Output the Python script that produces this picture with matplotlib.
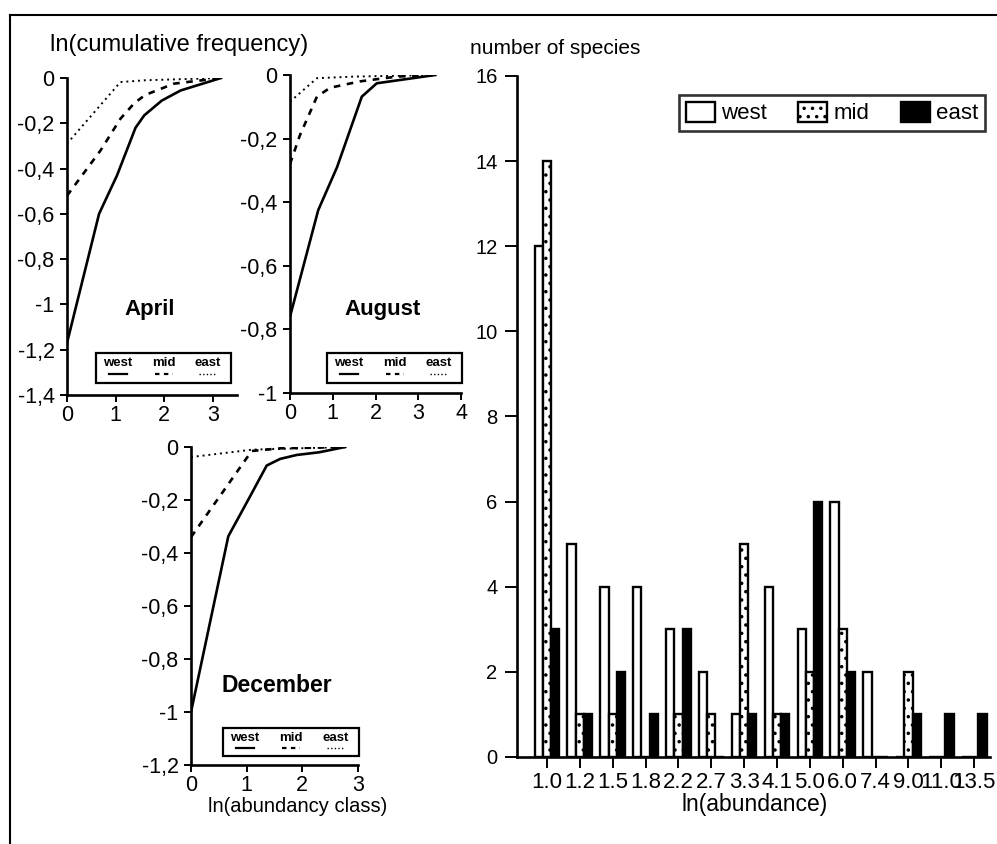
import matplotlib
matplotlib.use("Agg")
import matplotlib.pyplot as plt
import numpy as np
from matplotlib.patches import Rectangle
from matplotlib.lines import Line2D
from matplotlib.ticker import FuncFormatter

plt.rcParams['font.family'] = ['Liberation Sans', 'DejaVu Sans']
plt.rcParams['hatch.linewidth'] = 1.3

# ---------------- data ----------------
# April
apr_west_x = [0, 0.66, 1.03, 1.41, 1.59, 1.95, 2.34, 3.17]
apr_west_y = [-1.17, -0.60, -0.43, -0.22, -0.165, -0.10, -0.055, 0]
apr_mid_x = [0, 0.69, 1.1, 1.39, 1.61, 2.2, 3.17]
apr_mid_y = [-0.52, -0.32, -0.18, -0.11, -0.075, -0.025, 0]
apr_east_x = [0, 1.1, 1.61, 3.17]
apr_east_y = [-0.29, -0.018, -0.01, 0]
# August
aug_west_x = [0, 0.66, 1.1, 1.68, 2.03, 3.4]
aug_west_y = [-0.76, -0.425, -0.29, -0.068, -0.026, 0]
aug_mid_x = [0, 0.23, 0.63, 0.94, 1.64, 2.5, 3.4]
aug_mid_y = [-0.28, -0.19, -0.068, -0.04, -0.02, -0.005, 0]
aug_east_x = [0, 0.63, 1.5, 3.4]
aug_east_y = [-0.084, -0.01, -0.005, 0]
# December
dec_west_x = [0, 0.67, 1.0, 1.36, 1.6, 1.9, 2.3, 2.77]
dec_west_y = [-1.0, -0.337, -0.21, -0.07, -0.045, -0.03, -0.02, 0]
dec_mid_x = [0, 1.09, 1.61, 2.77]
dec_mid_y = [-0.34, -0.015, -0.005, 0]
dec_east_x = [0, 1.1, 2.77]
dec_east_y = [-0.038, -0.01, 0]

# bar chart
abund_labels = ["1.0", "1.2", "1.5", "1.8", "2.2", "2.7", "3.3", "4.1",
                "5.0", "6.0", "7.4", "9.0", "11.0", "13.5"]
west_counts = [12, 5, 4, 4, 3, 2, 1, 4, 3, 6, 2, 0, 0, 0]
mid_counts = [14, 1, 1, 0, 1, 1, 5, 1, 2, 3, 0, 2, 0, 0]
east_counts = [3, 1, 2, 1, 3, 0, 1, 1, 6, 2, 0, 1, 1, 1]
series_names = ["west", "mid", "east"]

# ---------------- layout ----------------
W, H = 997, 844
fig = plt.figure(figsize=(W / 100, H / 100), dpi=100)


def box(l, t, r, b):
    return [l / W, 1 - b / H, (r - l) / W, (b - t) / H]


def fx(x):
    return x / W


def fy(y):
    return 1 - y / H


# outer frame (top and left lines)
fig.add_artist(Line2D([fx(10), fx(997)], [fy(15), fy(15)], color='black', lw=1.5))
fig.add_artist(Line2D([fx(10), fx(10)], [fy(15), fy(844)], color='black', lw=1.5))


def comma_fmt(v, p):
    if abs(v) < 1e-9:
        return "0"
    s = f"{v:.1f}"
    if s.endswith(".0"):
        s = s[:-2]
    return s.replace('.', ',')


comma = FuncFormatter(comma_fmt)

LW = 1.9


def small_panel(rect, series, xlim, xticks, ylim, yticks, month, mpos, msize, legbox):
    ax = fig.add_axes(box(*rect))
    (wx, wy), (mx, my), (ex, ey) = series
    ax.plot(wx, wy, color='black', lw=LW)
    ax.plot(mx, my, color='black', lw=LW, linestyle=(0, (2.5, 2.5)))
    ax.plot(ex, ey, color='black', lw=1.4, linestyle=(0, (1, 2)))
    ax.set_xlim(*xlim)
    ax.set_ylim(*ylim)
    ax.set_xticks(xticks)
    ax.set_yticks(yticks)
    ax.yaxis.set_major_formatter(comma)
    for s in ['top', 'right']:
        ax.spines[s].set_visible(False)
    for s in ['left', 'bottom']:
        ax.spines[s].set_linewidth(1.9)
    ax.tick_params(direction='out', length=5, width=1.4, labelsize=15.5, pad=4)
    ax.tick_params(axis='x', length=5, pad=2)
    ax.patch.set_alpha(0)
    fig.text(fx(mpos[0]), fy(mpos[1]), month, ha='center', va='center',
             fontsize=msize, fontweight='bold')
    # mini legend
    l, t, r, b = legbox
    fig.add_artist(Rectangle((fx(l), fy(b)), fx(r) - fx(l), fy(t) - fy(b),
                             fill=False, edgecolor='black', lw=1.6))
    wdt = r - l
    cols = [l + wdt * 0.16, l + wdt * 0.5, l + wdt * 0.83]
    styles = [dict(lw=1.6), dict(lw=1.6, linestyle=(0, (2, 2))), dict(lw=1.0, linestyle=(0, (1, 1.6)))]
    ty = t + (b - t) * 0.35
    ly = t + (b - t) * 0.70
    for c, name, st in zip(cols, series_names, styles):
        fig.text(fx(c), fy(ty), name, ha='center', va='center', fontsize=9.5,
                 fontweight='bold')
        fig.add_artist(Line2D([fx(c - 9), fx(c + 9)], [fy(ly), fy(ly)], color='black', **st))
    return ax


small_panel((67, 78, 237, 395),
            [(apr_west_x, apr_west_y), (apr_mid_x, apr_mid_y), (apr_east_x, apr_east_y)],
            (0, 3.5), [0, 1, 2, 3], (-1.4, 0), np.round(np.arange(-1.4, 0.01, 0.2), 1),
            "April", (150, 310), 16, (96, 353, 231, 383))
small_panel((290, 75, 461, 393),
            [(aug_west_x, aug_west_y), (aug_mid_x, aug_mid_y), (aug_east_x, aug_east_y)],
            (0, 4), [0, 1, 2, 3, 4], (-1.0, 0), np.round(np.arange(-1.0, 0.01, 0.2), 1),
            "August", (383, 310), 16, (327, 353, 462, 383))
small_panel((191, 447, 358, 765),
            [(dec_west_x, dec_west_y), (dec_mid_x, dec_mid_y), (dec_east_x, dec_east_y)],
            (0, 3), [0, 1, 2, 3], (-1.2, 0), np.round(np.arange(-1.2, 0.01, 0.2), 1),
            "December", (277, 685), 16.5, (223, 728, 359, 756))

fig.text(fx(50), fy(45), "ln(cumulative frequency)", ha='left', va='center', fontsize=17)
fig.text(fx(298), fy(806), "ln(abundancy class)", ha='center', va='center', fontsize=14.5)

# ---------------- bar chart ----------------
axb = fig.add_axes(box(517, 76, 990, 757))
x = np.arange(len(abund_labels))
bw = 0.25
axb.bar(x - bw, west_counts, bw, facecolor='white', edgecolor='black', lw=1.7, label='west')
axb.bar(x, mid_counts, bw, facecolor='white', edgecolor='black', lw=1.7, hatch='..', label='mid')
axb.bar(x + bw, east_counts, bw, facecolor='black', edgecolor='black', lw=1.7, label='east')
axb.set_xlim(-0.91, 13.48)
axb.set_ylim(0, 16)
axb.set_yticks(np.arange(0, 17, 2))
axb.set_xticks(x)
axb.set_xticklabels(abund_labels)
for s in ['top', 'right']:
    axb.spines[s].set_visible(False)
for s in ['left', 'bottom']:
    axb.spines[s].set_linewidth(1.9)
axb.tick_params(direction='out', length=9, width=1.4, labelsize=14.5, pad=5)
axb.tick_params(axis='x', labelsize=16, length=8, pad=3)
leg = axb.legend(loc='upper right', bbox_to_anchor=(0.99, 0.972), ncol=3, frameon=True,
                 fancybox=False, edgecolor='black', fontsize=16, borderaxespad=0,
                 handlelength=1.3, handleheight=1.0, handletextpad=0.3, columnspacing=1.4,
                 borderpad=0.3)
leg.get_frame().set_linewidth(1.9)
fig.text(fx(470), fy(48), "number of species", ha='left', va='center', fontsize=15)
fig.text(fx(755), fy(805), "ln(abundance)", ha='center', va='center', fontsize=16.5)

fig.savefig("out.png", dpi=100)
